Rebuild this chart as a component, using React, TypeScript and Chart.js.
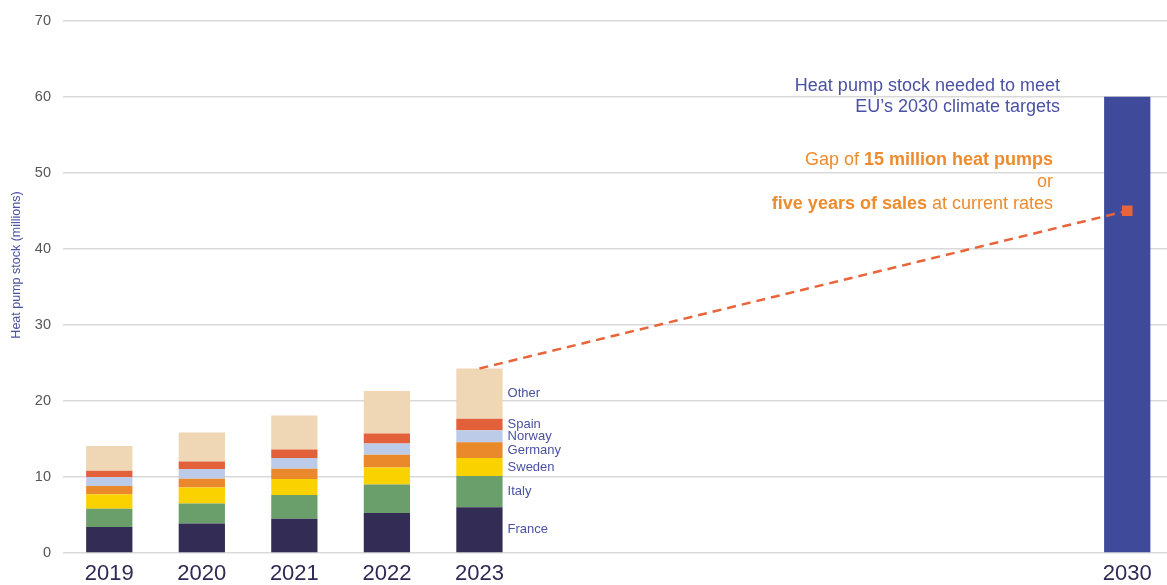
import React, { useEffect, useRef } from 'react';
import { Chart, registerables } from 'chart.js';

Chart.register(...registerables);

const years = ['2019', '2020', '2021', '2022', '2023', '2024', '2025', '2026', '2027', '2028', '2029', '2030'];
const shownYears = ['2019', '2020', '2021', '2022', '2023', '2030'];

const france = [3.41, 3.89, 4.51, 5.25, 6.0];
const italy = [2.41, 2.63, 3.11, 3.77, 4.11];
const sweden = [1.89, 2.1, 2.1, 2.23, 2.37];
const germany = [1.09, 1.14, 1.36, 1.66, 2.1];
const norway = [1.2, 1.27, 1.4, 1.5, 1.57];
const spain = [0.82, 1.01, 1.14, 1.31, 1.49];
const other = [3.25, 3.81, 4.46, 5.6, 6.62];

const target2030 = 60;
const gapStart2023 = 24.26;
const gapEnd2030 = 45;

const FONT = '"Liberation Sans", Arial, Helvetica, sans-serif';
const BLUE_TEXT = '#4a51a3';
const ORANGE_TEXT = '#ec8c2e';

const pad = (arr: number[]) => [...arr, ...new Array(years.length - arr.length).fill(null)];

const labelPlugin = {
  id: 'seriesLabels',
  afterDatasetsDraw(chart: any) {
    const ctx = chart.ctx;
    ctx.save();
    ctx.font = `13px ${FONT}`;
    ctx.fillStyle = BLUE_TEXT;
    ctx.textAlign = 'left';
    ctx.textBaseline = 'middle';
    for (let i = 0; i < 7; i++) {
      const meta = chart.getDatasetMeta(i);
      const el: any = meta.data[4];
      if (!el) continue;
      const { x, y, base, width } = el.getProps(['x', 'y', 'base', 'width'], true);
      ctx.fillText(chart.data.datasets[i].label, x + width / 2 + 5, (y + base) / 2);
    }
    ctx.restore();
  },
};

function drawRich(ctx: CanvasRenderingContext2D, parts: [string, boolean][], rightX: number, y: number, size: number) {
  let total = 0;
  const widths: number[] = [];
  for (const [t, b] of parts) {
    ctx.font = `${b ? 'bold ' : ''}${size}px ${FONT}`;
    const w = ctx.measureText(t).width;
    widths.push(w);
    total += w;
  }
  let x = rightX - total;
  parts.forEach(([t, b], i) => {
    ctx.font = `${b ? 'bold ' : ''}${size}px ${FONT}`;
    ctx.fillText(t, x, y);
    x += widths[i];
  });
}

const annotationPlugin = {
  id: 'annotations',
  afterDraw(chart: any) {
    const ctx = chart.ctx;
    ctx.save();
    ctx.textBaseline = 'middle';
    ctx.textAlign = 'left';
    ctx.fillStyle = BLUE_TEXT;
    drawRich(ctx, [['Heat pump stock needed to meet', false]], 1060, 86, 18);
    drawRich(ctx, [['EU\u2019s 2030 climate targets', false]], 1060, 107, 18);
    ctx.fillStyle = ORANGE_TEXT;
    drawRich(ctx, [['Gap of ', false], ['15 million heat pumps', true]], 1053, 160, 18);
    drawRich(ctx, [['or', false]], 1053, 182, 18);
    drawRich(ctx, [['five years of sales', true], [' at current rates', false]], 1053, 204, 18);

    // y-axis title
    ctx.translate(17, 265);
    ctx.rotate(-Math.PI / 2);
    ctx.textAlign = 'center';
    ctx.font = `12.5px ${FONT}`;
    ctx.fillStyle = BLUE_TEXT;
    ctx.fillText('Heat pump stock (millions)', 0, 0);
    ctx.restore();
  },
};

export default function App() {
  const ref = useRef<HTMLCanvasElement | null>(null);

  useEffect(() => {
    if (!ref.current) return;
    const barCommon = {
      type: 'bar' as const,
      stack: 'stock',
      barPercentage: 0.5,
      categoryPercentage: 1,
      borderWidth: 0,
      order: 2,
    };
    const lineData = years.map((y) => (y === '2023' ? gapStart2023 : y === '2030' ? gapEnd2030 : null));
    const chart = new Chart(ref.current, {
      type: 'bar',
      data: {
        labels: years,
        datasets: [
          { ...barCommon, label: 'France', data: pad(france), backgroundColor: '#332c54' },
          { ...barCommon, label: 'Italy', data: pad(italy), backgroundColor: '#6a9f6c' },
          { ...barCommon, label: 'Sweden', data: pad(sweden), backgroundColor: '#fad200' },
          { ...barCommon, label: 'Germany', data: pad(germany), backgroundColor: '#e9892b' },
          { ...barCommon, label: 'Norway', data: pad(norway), backgroundColor: '#bccbe7' },
          { ...barCommon, label: 'Spain', data: pad(spain), backgroundColor: '#e2613b' },
          { ...barCommon, label: 'Other', data: pad(other), backgroundColor: '#efd6b4' },
          {
            ...barCommon,
            label: 'Target',
            data: years.map((y) => (y === '2030' ? target2030 : null)),
            backgroundColor: '#404a9a',
          },
          {
            type: 'line' as const,
            label: 'Gap',
            stack: 'gap',
            data: lineData,
            spanGaps: true,
            borderColor: '#e8643a',
            borderWidth: 2.5,
            borderDash: [9, 6],
            pointStyle: 'rect',
            pointRadius: years.map((y) => (y === '2030' ? 7.5 : 0)),
            pointBackgroundColor: '#e8643a',
            pointBorderWidth: 0,
            order: 0,
          } as any,
        ],
      },
      options: {
        responsive: false,
        animation: false,
        layout: { padding: { top: 20, left: 0, right: 0, bottom: 0 } },
        plugins: {
          legend: { display: false },
          tooltip: { enabled: false },
        },
        scales: {
          x: {
            stacked: true,
            grid: { display: false, drawTicks: false },
            border: { display: false },
            ticks: {
              autoSkip: false,
              maxRotation: 0,
              padding: 8,
              color: '#2f2a55',
              font: { family: FONT, size: 22 },
              callback: (_v: any, i: number) => (shownYears.includes(years[i]) ? years[i] : ''),
            },
            afterFit: (s: any) => {
              s.height = 32;
            },
          },
          y: {
            stacked: true,
            min: 0,
            max: 70,
            grid: { color: '#d9d9d9', lineWidth: 1.5, drawTicks: false },
            border: { display: false },
            ticks: {
              stepSize: 10,
              padding: 12,
              color: '#555555',
              font: { family: FONT, size: 14.5 },
            },
            afterFit: (s: any) => {
              s.width = 63;
            },
          },
        },
      },
      plugins: [labelPlugin, annotationPlugin],
    } as any);
    return () => chart.destroy();
  }, []);

  return (
    <div style={{ position: 'fixed', left: 0, top: 0, width: 1167, height: 585, overflow: 'hidden', background: '#fff' }}>
      <canvas ref={ref} width={1181} height={585} style={{ width: 1181, height: 585, display: 'block' }} />
    </div>
  );
}
